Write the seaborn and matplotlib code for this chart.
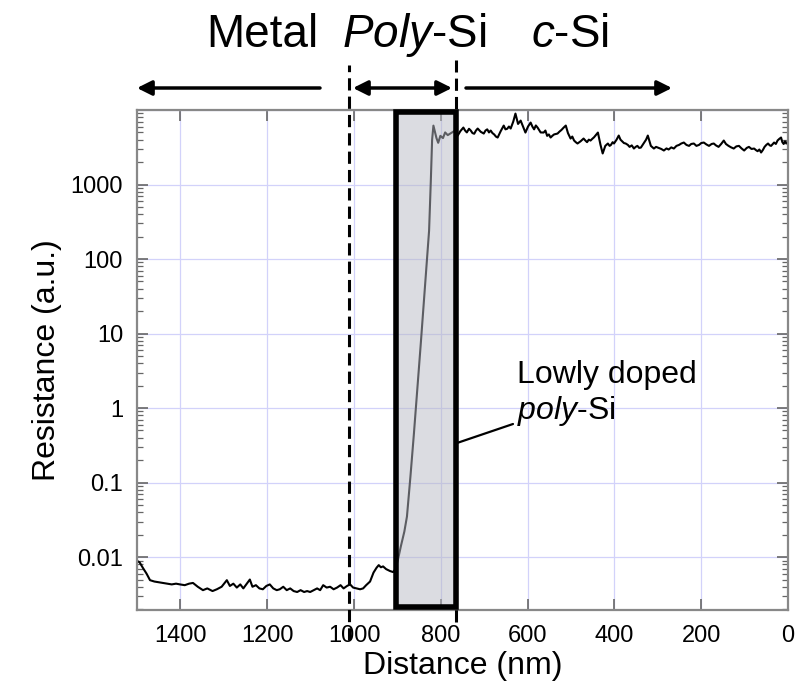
import numpy as np
import pandas as pd
import matplotlib
matplotlib.use("Agg")
import matplotlib.pyplot as plt
import seaborn as sns
from matplotlib.patches import Rectangle, FancyArrowPatch
from matplotlib.lines import Line2D
from matplotlib.ticker import FixedLocator, FixedFormatter, LogLocator, NullFormatter
import matplotlib.transforms as mtransforms

# ---------------- data ----------------
metal_dist = [1500, 1494, 1486, 1478, 1470, 1460, 1450, 1440, 1430, 1420, 1410, 1401,
              1390, 1380, 1371, 1360, 1348, 1338, 1326, 1316, 1305, 1298, 1293, 1286,
              1278, 1270, 1262, 1255, 1247, 1240, 1234, 1226, 1218, 1210, 1202, 1194,
              1186, 1178, 1171, 1163, 1155, 1147, 1139, 1131, 1123, 1115, 1108, 1101,
              1093, 1085, 1078, 1071, 1063, 1055, 1047, 1039, 1031, 1024, 1016, 1009,
              1002, 994, 986, 979, 972, 963, 955, 948, 943, 938, 933, 926, 917, 910, 905]
metal_res = [0.0089, 0.0085, 0.0071, 0.0060, 0.0049, 0.0047, 0.0046, 0.0045, 0.0044, 0.0043,
             0.0044, 0.0043, 0.0042, 0.0044, 0.0045, 0.0040, 0.0036, 0.0038, 0.0035, 0.0037,
             0.0040, 0.0045, 0.0049, 0.0041, 0.0044, 0.0039, 0.0043, 0.0038, 0.0044, 0.0050,
             0.0040, 0.0042, 0.0038, 0.0037, 0.0041, 0.0043, 0.0038, 0.0036, 0.0037, 0.0040,
             0.0036, 0.0038, 0.0035, 0.0034, 0.0036, 0.0034, 0.0035, 0.0034, 0.0036, 0.0038,
             0.0036, 0.0042, 0.0039, 0.0040, 0.0037, 0.0039, 0.0042, 0.0038, 0.0041, 0.0043,
             0.0039, 0.0038, 0.0037, 0.0038, 0.0042, 0.0047, 0.0062, 0.0072, 0.0078, 0.0073,
             0.0075, 0.0069, 0.0065, 0.0063, 0.0068]

poly_dist = [899, 892, 884, 878, 870, 862, 854, 846, 838, 830, 827, 823, 820, 817,
             814, 810, 806, 801, 795, 790, 784, 779, 772, 767]
poly_res = [0.0091, 0.014, 0.022, 0.035, 0.12, 0.45, 1.8, 7.5, 32, 140, 240, 1120, 4000,
            6170, 5200, 4200, 3630, 4500, 4200, 5000, 4600, 4800, 5100, 5300]

csi_dist = [761, 755, 748, 744, 740, 735, 731, 727, 723, 719, 715, 708, 701, 697, 693,
            689, 685, 681, 677, 673, 669, 662, 655, 651, 647, 643, 639, 633, 628, 622,
            616, 610, 605, 599, 593, 589, 585, 581, 577, 570, 563, 559, 555, 551, 547,
            543, 539, 531, 527, 522, 517, 512, 507, 501, 497, 493, 489, 485, 478, 471,
            467, 463, 459, 455, 451, 447, 443, 438, 432, 427, 421, 415, 411, 408, 404,
            401, 395, 390, 386, 382, 378, 374, 369, 365, 360, 355, 351, 347, 343, 339,
            335, 331, 327, 323, 316, 309, 304, 298, 292, 286, 280, 275, 269, 263, 257,
            251, 246, 240, 234, 228, 223, 217, 211, 205, 200, 194, 188, 182, 176, 171,
            166, 160, 154, 148, 143, 137, 131, 125, 119, 113, 107, 101, 95, 90, 84, 78,
            74, 70, 66, 62, 58, 54, 50, 46, 42, 39, 35, 32, 28, 24, 20, 16, 13, 10, 7, 4, 0]
csi_res = [4540, 5200, 5810, 5300, 5000, 5600, 5300, 4900, 4800, 5300, 5640, 5100, 4830,
           5300, 5500, 5000, 5300, 4900, 4700, 4400, 4270, 5200, 6180, 5500, 5600, 6000,
           5640, 7000, 8950, 6500, 7210, 5900, 4980, 6000, 6780, 6000, 5500, 6200, 5810,
           5000, 4980, 5300, 4500, 4700, 4270, 4500, 4700, 4830, 5100, 5400, 5800, 6180,
           4900, 4140, 4400, 3900, 3700, 3550, 3800, 4140, 3900, 3700, 4000, 3890, 4100,
           4300, 4600, 4980, 3400, 2610, 3300, 3550, 3300, 3400, 3700, 3550, 4000, 4540,
           4000, 3800, 3600, 3550, 3400, 3200, 3350, 3040, 3200, 3300, 3100, 3130, 3400,
           3700, 4000, 4540, 3300, 3040, 3200, 3100, 3000, 2860, 3050, 2950, 3150, 3040,
           3300, 3400, 3550, 3660, 3400, 3300, 3500, 3550, 3300, 3400, 3600, 3660, 3450,
           3300, 3500, 3550, 3350, 3200, 3500, 3890, 3500, 3300, 3150, 3040, 3250, 3300,
           3050, 2860, 3100, 3200, 3000, 3040, 2900, 2800, 2950, 2690, 2900, 3200, 3400,
           3550, 3350, 3300, 3500, 3660, 3500, 3900, 4100, 4270, 3700, 3500, 3800, 3550,
           3800]

xtick_vals = [0, 200, 400, 600, 800, 1000, 1200, 1400]
xtick_labels = ["0", "200", "400", "600", "800", "1000", "1200", "1400"]
ytick_vals = [0.01, 0.1, 1, 10, 100, 1000, 10000]
ytick_labels = ["0.01", "0.1", "1", "10", "100", "1000", ""]

region_labels = ["Metal", r"$\mathit{Poly}$-Si", r"$\mathit{c}$-Si"]
lowly_start, lowly_end = 904, 766      # shaded "lowly doped poly-Si" band (nm)
interface_lines = [1012, 766]          # dashed boundaries (nm)

df = pd.DataFrame({
    "Distance": metal_dist + poly_dist + csi_dist,
    "Resistance": metal_res + poly_res + csi_res,
})

# ---------------- style ----------------
sns.set_theme(style="white")
plt.rcParams["font.family"] = ["Liberation Sans", "DejaVu Sans"]
plt.rcParams["mathtext.fontset"] = "custom"
plt.rcParams["mathtext.rm"] = "Liberation Sans"
plt.rcParams["mathtext.it"] = "Liberation Sans:italic"
plt.rcParams["text.color"] = "black"
plt.rcParams["axes.labelcolor"] = "black"
plt.rcParams["xtick.color"] = "black"
plt.rcParams["ytick.color"] = "black"

fig = plt.figure(figsize=(8.04, 6.89), dpi=100)
ax = fig.add_axes([137 / 804, 1 - 610 / 689, 651 / 804, 500 / 689])

sns.lineplot(data=df, x="Distance", y="Resistance", ax=ax, color="black",
             lw=1.5, sort=False, zorder=2)

ax.set_yscale("log")
ax.set_xlim(1500, 0)
ax.set_ylim(0.00195, 10000)

ax.xaxis.set_major_locator(FixedLocator(xtick_vals))
ax.xaxis.set_major_formatter(FixedFormatter(xtick_labels))
ax.yaxis.set_major_locator(FixedLocator(ytick_vals))
ax.yaxis.set_major_formatter(FixedFormatter(ytick_labels))
ax.yaxis.set_minor_locator(LogLocator(base=10, subs=np.arange(2, 10), numticks=20))
ax.yaxis.set_minor_formatter(NullFormatter())

ax.tick_params(axis="both", which="major", direction="in", length=8, width=1.2,
               color="#666666", labelcolor="black", labelsize=17,
               top=True, right=True, bottom=True, left=True)
ax.tick_params(axis="x", which="major", pad=11)
ax.tick_params(axis="y", which="major", pad=10)
ax.tick_params(axis="y", which="minor", direction="in", length=4, width=0.9,
               color="#666666", left=True, right=True)

for s in ax.spines.values():
    s.set_color("#888888")
    s.set_linewidth(1.6)

ax.grid(True, which="major", color="#d2d2fa", lw=0.9)
ax.set_axisbelow(True)

ax.set_xlabel("Distance (nm)", fontsize=23, labelpad=3)
ax.set_ylabel("Resistance (a.u.)", fontsize=23, labelpad=6)

# shaded band
trans = mtransforms.blended_transform_factory(ax.transData, ax.transAxes)
rect = Rectangle((lowly_start, 0.006), lowly_end - lowly_start, 0.99, transform=trans,
                 facecolor=(0.72, 0.73, 0.77, 0.5), edgecolor="black", lw=4.0,
                 zorder=3, clip_on=False)
ax.add_patch(rect)

# dashed interface lines
ax.plot([interface_lines[0]] * 2, [-0.06, 1.09], transform=trans, color="black",
        lw=2.2, ls=(0, (4, 2)), clip_on=False, zorder=4)
ax.plot([interface_lines[1]] * 2, [-0.024, 1.10], transform=trans, color="black",
        lw=2.2, ls=(0, (4, 2)), clip_on=False, zorder=4)

# region labels
fy = 1 - 35 / 689
fig.text(262 / 804, fy, region_labels[0], fontsize=33, ha="center", va="center")
fig.text(414 / 804, fy, region_labels[1], fontsize=33, ha="center", va="center")
fig.text(570 / 804, fy, region_labels[2], fontsize=33, ha="center", va="center")

# region arrows
ay = 1 - 88 / 689
arrow_kw = dict(arrowstyle="-|>", color="black", lw=2.5, mutation_scale=22,
                shrinkA=0, shrinkB=0)
fig.add_artist(FancyArrowPatch((320 / 804, ay), (137 / 804, ay),
               transform=fig.transFigure, **arrow_kw))
fig.add_artist(FancyArrowPatch((353 / 804, ay), (452 / 804, ay),
               transform=fig.transFigure, arrowstyle="<|-|>", color="black", lw=2.5,
               mutation_scale=22, shrinkA=0, shrinkB=0))
fig.add_artist(FancyArrowPatch((466 / 804, ay), (672 / 804, ay),
               transform=fig.transFigure, **arrow_kw))

# annotation
fig.add_artist(Line2D([457 / 804, 513 / 804], [1 - 443 / 689, 1 - 424 / 689],
                      transform=fig.transFigure, color="black", lw=1.6))
fig.text(517 / 804, 1 - 375 / 689, "Lowly doped", fontsize=23, ha="left", va="center")
fig.text(517 / 804, 1 - 411 / 689, r"$\mathit{poly}$-Si", fontsize=23, ha="left",
         va="center")

fig.savefig("out.png", dpi=100)
